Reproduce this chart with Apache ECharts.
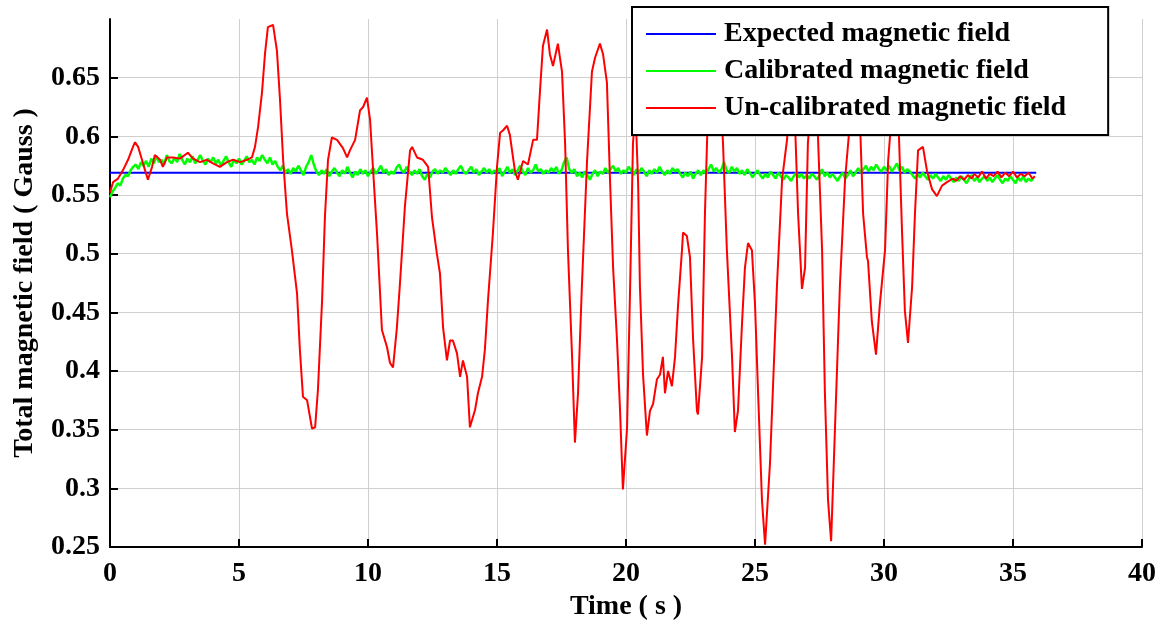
<!DOCTYPE html>
<html>
<head>
<meta charset="utf-8">
<title>Total magnetic field</title>
<script src="https://cdn.jsdelivr.net/npm/echarts@6/dist/echarts.min.js"></script>
<style>
  html, body { margin: 0; padding: 0; background: #fff; }
  #chart { width: 1168px; height: 624px; }
</style>
</head>
<body>
<div id="chart"></div>
<script>
// Axis ticks
const xTicks = { min: 0, max: 40, step: 5 };
const yTicks = { min: 0.25, max: 0.7, step: 0.05 };

// Expected (reference) field, Gauss
const expectedTime = [0, 35.9];
const expectedField = [0.569, 0.569];

// Calibrated field, sampled every 0.1 s from t = 0
const calibratedStep = 0.1;
const calibratedField = [
  0.548,0.553,0.556,0.560,0.558,0.564,0.567,0.566,0.571,0.574,
  0.576,0.572,0.578,0.575,0.579,0.574,0.581,0.577,0.583,0.578,
  0.580,0.576,0.584,0.579,0.577,0.582,0.578,0.585,0.580,0.576,
  0.581,0.578,0.583,0.577,0.580,0.584,0.579,0.576,0.581,0.578,
  0.582,0.577,0.580,0.575,0.579,0.583,0.578,0.574,0.580,0.577,
  0.581,0.576,0.579,0.583,0.578,0.580,0.576,0.582,0.579,0.584,
  0.580,0.577,0.582,0.576,0.579,0.574,0.571,0.575,0.569,0.572,
  0.568,0.573,0.570,0.575,0.571,0.567,0.574,0.578,0.584,0.576,
  0.570,0.567,0.571,0.568,0.572,0.566,0.570,0.573,0.569,0.566,
  0.571,0.568,0.574,0.569,0.565,0.570,0.567,0.572,0.568,0.571,
  0.566,0.570,0.573,0.568,0.571,0.575,0.569,0.572,0.567,0.570,
  0.568,0.573,0.576,0.571,0.569,0.574,0.570,0.567,0.571,0.568,
  0.572,0.566,0.563,0.568,0.565,0.570,0.572,0.568,0.571,0.569,
  0.573,0.570,0.567,0.571,0.568,0.572,0.575,0.570,0.568,0.571,
  0.574,0.569,0.572,0.567,0.570,0.573,0.569,0.572,0.568,0.571,
  0.569,0.573,0.566,0.570,0.574,0.569,0.572,0.567,0.571,0.575,
  0.570,0.567,0.573,0.569,0.571,0.576,0.570,0.572,0.568,0.571,
  0.569,0.573,0.570,0.574,0.568,0.571,0.578,0.582,0.572,0.569,
  0.572,0.566,0.569,0.565,0.570,0.567,0.563,0.568,0.571,0.566,
  0.570,0.568,0.573,0.569,0.572,0.575,0.570,0.573,0.568,0.571,
  0.569,0.574,0.571,0.567,0.572,0.569,0.573,0.570,0.566,0.571,
  0.568,0.572,0.569,0.574,0.570,0.567,0.571,0.568,0.573,0.570,
  0.572,0.568,0.565,0.569,0.566,0.570,0.564,0.568,0.571,0.567,
  0.571,0.568,0.572,0.576,0.570,0.573,0.569,0.572,0.578,0.571,
  0.569,0.574,0.570,0.573,0.568,0.571,0.567,0.572,0.569,0.565,
  0.568,0.571,0.567,0.564,0.568,0.565,0.570,0.567,0.564,0.569,
  0.566,0.563,0.567,0.565,0.562,0.566,0.569,0.565,0.568,0.564,
  0.567,0.564,0.568,0.566,0.563,0.567,0.572,0.566,0.569,0.565,
  0.568,0.565,0.562,0.566,0.569,0.564,0.567,0.571,0.566,0.569,
  0.573,0.569,0.572,0.575,0.570,0.574,0.571,0.576,0.572,0.570,
  0.574,0.571,0.575,0.570,0.573,0.577,0.571,0.574,0.569,0.572,
  0.570,0.567,0.564,0.568,0.565,0.569,0.566,0.563,0.567,0.564,
  0.568,0.565,0.562,0.566,0.563,0.567,0.564,0.561,0.565,0.562,
  0.566,0.563,0.560,0.564,0.567,0.562,0.565,0.561,0.564,0.566,
  0.562,0.565,0.561,0.564,0.567,0.563,0.560,0.564,0.562,0.566,
  0.563,0.560,0.565,0.562,0.566,0.561,0.564,0.562,0.565
];

// Un-calibrated field: sample times (s) and values (Gauss)
const rawTime = [
  0.00,0.12,0.31,0.50,0.70,0.89,0.97,1.09,1.24,1.36,1.47,1.63,1.74,1.94,2.05,2.21,2.44,2.71,3.02,3.22,
  3.49,3.76,3.99,4.26,4.53,4.77,5.04,5.31,5.50,5.62,5.74,5.89,6.01,6.12,6.32,6.47,6.59,6.71,6.86,7.05,
  7.25,7.36,7.48,7.64,7.83,7.95,8.06,8.22,8.33,8.45,8.60,8.80,9.03,9.19,9.30,9.50,9.69,9.81,9.96,10.08,
  10.19,10.35,10.54,10.74,10.85,10.97,11.12,11.24,11.43,11.63,11.71,11.90,12.13,12.33,12.48,12.67,12.79,12.91,13.06,13.18,
  13.29,13.45,13.57,13.68,13.84,13.95,14.15,14.26,14.42,14.53,14.65,14.84,15.00,15.12,15.23,15.39,15.50,15.62,15.70,15.81,
  16.01,16.20,16.40,16.55,16.67,16.78,16.94,17.05,17.17,17.36,17.52,17.64,17.75,17.91,18.02,18.14,18.29,18.49,18.68,18.80,
  18.99,19.11,19.26,19.38,19.50,19.65,19.77,19.88,20.04,20.16,20.27,20.37,20.47,20.54,20.66,20.81,20.93,21.05,21.20,21.32,
  21.43,21.51,21.63,21.78,21.90,22.02,22.17,22.21,22.36,22.48,22.60,22.75,22.79,22.95,23.06,23.18,23.33,23.49,23.64,23.76,
  23.91,24.11,24.22,24.34,24.50,24.61,24.73,24.88,25.00,25.12,25.27,25.39,25.58,25.85,26.05,26.24,26.40,26.55,26.67,26.82,
  26.94,27.05,27.21,27.36,27.44,27.60,27.71,27.83,27.95,28.10,28.29,28.49,28.68,28.88,29.07,29.19,29.34,29.38,29.53,29.69,
  29.84,30.04,30.16,30.31,30.47,30.58,30.70,30.81,30.93,31.09,31.20,31.32,31.51,31.67,31.86,32.05,32.25,32.44,32.67,32.80,
  32.95,33.10,33.25,33.40,33.50,33.65,33.80,33.95,34.10,34.25,34.40,34.55,34.70,34.85,35.00,35.15,35.30,35.45,35.60,35.75,
  35.85
];
const rawField = [
  0.552,0.561,0.564,0.571,0.580,0.591,0.595,0.591,0.580,0.571,0.563,0.574,0.584,0.580,0.574,0.582,0.582,0.581,0.586,0.581,
  0.578,0.580,0.577,0.574,0.578,0.580,0.578,0.580,0.582,0.591,0.608,0.637,0.671,0.693,0.695,0.673,0.631,0.580,0.534,0.503,
  0.466,0.418,0.378,0.375,0.351,0.352,0.384,0.460,0.531,0.580,0.599,0.597,0.590,0.582,0.588,0.597,0.622,0.625,0.633,0.614,
  0.574,0.517,0.435,0.420,0.407,0.403,0.437,0.475,0.540,0.588,0.591,0.582,0.580,0.574,0.531,0.500,0.483,0.437,0.409,0.426,
  0.426,0.415,0.395,0.409,0.395,0.352,0.367,0.381,0.395,0.418,0.460,0.517,0.574,0.603,0.605,0.609,0.601,0.582,0.570,0.563,
  0.579,0.576,0.597,0.597,0.640,0.677,0.691,0.670,0.660,0.679,0.655,0.594,0.503,0.412,0.339,0.381,0.472,0.579,0.655,0.667,
  0.679,0.670,0.646,0.563,0.488,0.427,0.366,0.299,0.351,0.472,0.594,0.622,0.560,0.472,0.397,0.345,0.366,0.372,0.393,0.397,
  0.412,0.381,0.400,0.387,0.412,0.457,0.503,0.518,0.515,0.497,0.427,0.366,0.363,0.412,0.534,0.625,0.662,0.672,0.645,0.594,
  0.503,0.412,0.348,0.366,0.442,0.488,0.509,0.503,0.457,0.381,0.290,0.252,0.321,0.472,0.563,0.597,0.638,0.612,0.534,0.470,
  0.488,0.594,0.642,0.628,0.600,0.503,0.381,0.290,0.255,0.351,0.472,0.563,0.612,0.652,0.612,0.534,0.497,0.494,0.442,0.414,
  0.457,0.503,0.579,0.622,0.640,0.600,0.518,0.451,0.424,0.472,0.534,0.588,0.591,0.570,0.555,0.549,0.558,0.561,0.564,0.562,
  0.566,0.563,0.567,0.564,0.568,0.565,0.570,0.564,0.568,0.566,0.570,0.565,0.569,0.566,0.570,0.565,0.568,0.566,0.569,0.564,
  0.566
];

const serif = "'Liberation Serif', 'Times New Roman', 'DejaVu Serif', serif";

const expectedData = expectedTime.map((t, i) => [t, expectedField[i]]);
const calibratedData = calibratedField.map((v, i) => [+(i * calibratedStep).toFixed(2), v]);
const rawData = rawTime.map((t, i) => [t, rawField[i]]);

const chart = echarts.init(document.getElementById('chart'), null, { renderer: 'canvas' });

const gridColor = '#cfcfcf';
const axisCommon = {
  axisLine: { show: true, onZero: false, lineStyle: { color: '#000', width: 2 } },
  axisTick: { show: true, inside: true, length: 8, lineStyle: { color: '#000', width: 2 } },
  splitLine: { show: true, lineStyle: { color: gridColor, width: 1 } },
  axisLabel: { color: '#000', fontFamily: serif, fontWeight: 'bold', fontSize: 28 },
  nameTextStyle: { color: '#000', fontFamily: serif, fontWeight: 'bold', fontSize: 28 }
};

chart.setOption({
  animation: false,
  backgroundColor: '#fff',
  grid: { left: 110, right: 26, top: 19, bottom: 77, containLabel: false, outerBoundsMode: 'none' },
  legend: {
    orient: 'vertical',
    left: 632,
    top: 7,
    padding: [12, 42, 12, 14],
    backgroundColor: '#fff',
    borderColor: '#000',
    borderWidth: 2,
    borderRadius: 0,
    icon: 'rect',
    itemWidth: 70,
    itemHeight: 2,
    itemGap: 7,
    textStyle: { color: '#000', fontFamily: serif, fontWeight: 'bold', fontSize: 28, lineHeight: 30, padding: [0, 0, 0, 3] },
    data: ['Expected magnetic field', 'Calibrated magnetic field', 'Un-calibrated magnetic field']
  },
  xAxis: Object.assign({}, axisCommon, {
    type: 'value',
    min: xTicks.min,
    max: xTicks.max,
    interval: xTicks.step,
    name: 'Time ( s )',
    nameLocation: 'middle',
    nameGap: 44,
    axisLabel: Object.assign({}, axisCommon.axisLabel, { margin: 13 })
  }),
  yAxis: Object.assign({}, axisCommon, {
    type: 'value',
    min: yTicks.min,
    max: yTicks.max,
    interval: yTicks.step,
    name: 'Total magnetic field ( Gauss )',
    nameLocation: 'middle',
    nameGap: 71,
    axisLabel: Object.assign({}, axisCommon.axisLabel, { margin: 10, showMaxLabel: false }),
    splitLine: { show: true, showMaxLine: false, lineStyle: { color: gridColor, width: 1 } }
  }),
  series: [
    {
      name: 'Expected magnetic field',
      type: 'line',
      data: expectedData,
      symbol: 'none',
      lineStyle: { color: '#0000ff', width: 2 },
      itemStyle: { color: '#0000ff' }
    },
    {
      name: 'Calibrated magnetic field',
      type: 'line',
      data: calibratedData,
      symbol: 'none',
      lineStyle: { color: '#00ff00', width: 2.5 },
      itemStyle: { color: '#00ff00' }
    },
    {
      name: 'Un-calibrated magnetic field',
      type: 'line',
      data: rawData,
      symbol: 'none',
      lineStyle: { color: '#ff0000', width: 2 },
      itemStyle: { color: '#ff0000' }
    }
  ]
});
</script>
</body>
</html>
